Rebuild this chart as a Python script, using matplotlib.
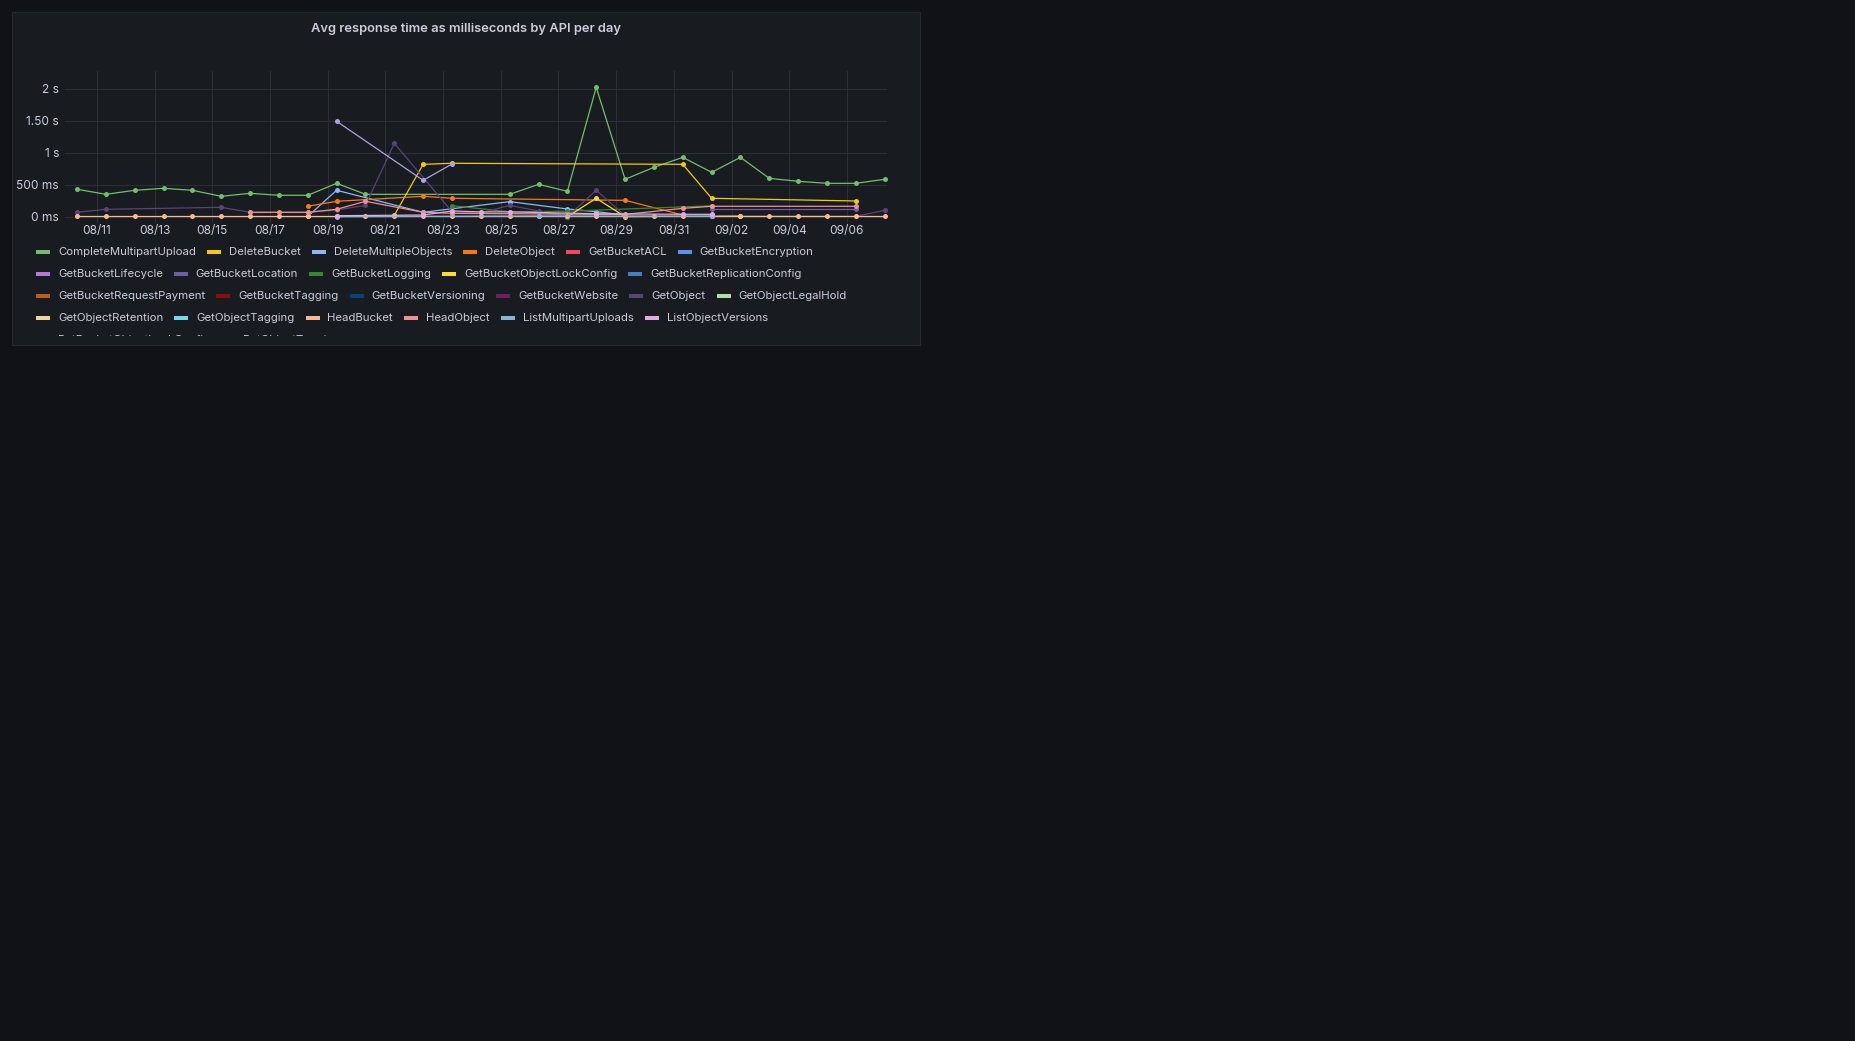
"""Grafana style panel: average API response time per day."""

import matplotlib

matplotlib.use("Agg")
import matplotlib.pyplot as plt
import numpy as np
from matplotlib.patches import Rectangle
from matplotlib.transforms import Bbox

W, H = 1855, 1041
N = None

# one point per day, 08/10 .. 09/07
dates = ["08/10", "08/11", "08/12", "08/13", "08/14", "08/15", "08/16", "08/17",
         "08/18", "08/19", "08/20", "08/21", "08/22", "08/23", "08/24", "08/25",
         "08/26", "08/27", "08/28", "08/29", "08/30", "08/31", "09/01", "09/02",
         "09/03", "09/04", "09/05", "09/06", "09/07"]

# values in ms, None = no data that day
complete_multipart_upload = [433, 354, 417, 448, 417, 323, 370, 339, 339, 526, 354, N, N, N, N,
                             354, 510, 401, 2026, 589, 776, 932, 698, 932, 604, 557, 526, 526, 589]
delete_bucket = [N, N, N, N, N, N, N, N, N, N, N, 26, 823, 839, N,
                 N, N, N, N, N, N, 823, 292, N, N, N, N, 250, N]
delete_multiple_objects = [N, N, N, N, N, N, N, N, 10, 417, N, N, 73, N, N,
                           240, N, 125, 83, 30, N, N, N, N, N, N, N, N, N]
delete_object = [N, N, N, N, N, N, N, N, 167, 245, N, N, 323, 292, N,
                 N, N, N, N, 260, N, 31, N, N, N, N, N, N, N]
get_bucket_logging = [N, N, N, N, N, N, N, N, N, N, N, N, N, 177, N,
                      80, N, 90, N, N, N, N, 175, N, N, N, N, N, N]
get_bucket_object_lock_config = [N, N, N, N, N, N, N, N, N, N, N, N, N, N, N,
                                 N, N, 5, 292, 5, N, N, 16, 20, N, N, N, N, N]
get_object = [73, 120, N, N, N, 151, 73, N, 73, 109, 182, 1151, N, 83, 60,
              182, 94, 5, 417, 20, N, N, N, N, N, N, N, 10, 104]
get_bucket_location = [N, N, N, N, N, N, N, N, N, N, N, N, N, N, N,
                       N, N, N, N, N, N, N, 120, N, N, N, N, 120, N]
head_object = [N, N, N, N, N, N, 73, 73, 73, 120, 245, N, 73, 57, N,
               N, N, N, N, 40, N, 135, 167, N, N, N, N, 167, N]
list_multipart_uploads = [N, N, N, N, N, N, N, N, N, 5, N, N, N, N, N,
                          N, 16, N, N, N, N, N, 10, N, N, N, N, N, N]
list_object_versions = [N, N, N, N, N, N, N, N, N, 20, N, N, 31, 94, 80,
                        80, N, N, 50, N, N, 42, 42, N, N, N, N, N, N]
head_bucket = [10] * 29
put_bucket_object_lock_config = [N, N, N, N, N, N, N, N, N, 1495, N, N, 573, 828, N,
                                 N, N, N, N, N, N, N, N, N, N, N, N, N, N]

series = [
    ("CompleteMultipartUpload", "#73BF69", complete_multipart_upload),
    ("DeleteBucket", "#F2CC0C", delete_bucket),
    ("DeleteMultipleObjects", "#8AB8FF", delete_multiple_objects),
    ("DeleteObject", "#FF780A", delete_object),
    ("GetBucketACL", "#F2495C", None),
    ("GetBucketEncryption", "#5794F2", None),
    ("GetBucketLifecycle", "#B877D9", None),
    ("GetBucketLocation", "#705DA0", get_bucket_location),
    ("GetBucketLogging", "#37872D", get_bucket_logging),
    ("GetBucketObjectLockConfig", "#FADE2A", get_bucket_object_lock_config),
    ("GetBucketReplicationConfig", "#447EBC", None),
    ("GetBucketRequestPayment", "#C15C17", None),
    ("GetBucketTagging", "#890F02", None),
    ("GetBucketVersioning", "#0A437C", None),
    ("GetBucketWebsite", "#6D1F62", None),
    ("GetObject", "#584477", get_object),
    ("GetObjectLegalHold", "#B7DBAB", None),
    ("GetObjectRetention", "#F4D598", None),
    ("GetObjectTagging", "#70DBED", None),
    ("HeadBucket", "#F9BA8F", head_bucket),
    ("HeadObject", "#F29191", head_object),
    ("ListMultipartUploads", "#82B5D8", list_multipart_uploads),
    ("ListObjectVersions", "#E5A8E2", list_object_versions),
    ("PutBucketObjectLockConfig", "#AEA2E0", put_bucket_object_lock_config),
    ("PutObjectTagging", "#613D7C", None),
]
legend_rows = [6, 5, 6, 6, 2]

y_ticks = [0, 500, 1000, 1500, 2000]
y_labels = ["0 ms", "500 ms", "1 s", "1.50 s", "2 s"]

TEXT = "#ccccdc"
plt.rcParams["font.family"] = ["Inter", "DejaVu Sans"]


def fx(x):
    return x / W


def fy(y):
    return 1 - y / H


fig = plt.figure(figsize=(W / 100, H / 100), dpi=100, facecolor="#111217")

# panel background
fig.patches.append(Rectangle((fx(12), fy(345)), fx(908), (345 - 12) / H,
                             transform=fig.transFigure, facecolor="#181b1f",
                             edgecolor="#25282d", linewidth=0.8, zorder=-5))

fig.text(fx(466), fy(29), "Avg response time as milliseconds by API per day",
         ha="center", va="center", fontsize=9.3, fontweight="semibold", color=TEXT)

ax = fig.add_axes([fx(65), fy(223), (887 - 65) / W, (223 - 71) / H])
ax.set_facecolor("none")
ax.set_zorder(2)
for s in ax.spines.values():
    s.set_visible(False)

x_all = np.arange(len(dates))
for name, color, vals in series:
    if vals is None:
        continue
    v = np.array([np.nan if a is None else a for a in vals], dtype=float)
    m = ~np.isnan(v)
    ax.plot(x_all[m], v[m], color=color, lw=0.9, marker="o", ms=3.6,
            markeredgewidth=0, solid_joinstyle="round")

ax.set_xlim(-0.416, 28.08)
ax.set_ylim(-94, 2281)

tick_idx = list(range(1, len(dates), 2))
ax.set_xticks([i - 0.31 for i in tick_idx])
ax.set_xticklabels([dates[i] for i in tick_idx])
ax.set_yticks(y_ticks)
ax.set_yticklabels(y_labels)
ax.tick_params(length=0, colors=TEXT, labelsize=8.6)
ax.tick_params(axis="y", pad=4.3)
ax.tick_params(axis="x", pad=1.5)
ax.grid(True, color="#2c2f35", linewidth=0.72)
ax.set_axisbelow(True)

# legend laid out as flowing rows
renderer = fig.canvas.get_renderer()
clip = Bbox.from_extents(12, H - 336, 920, H - 12)
row_y = [252, 274, 296, 318, 340]
k = 0
for r, count in enumerate(legend_rows):
    x = 36
    for name, color, _ in series[k:k + count]:
        sw = Rectangle((fx(x), fy(row_y[r]) - 2 / H), 14 / W, 4 / H,
                       transform=fig.transFigure, facecolor=color, edgecolor="none")
        sw.set_clip_box(clip)
        fig.patches.append(sw)
        t = fig.text(fx(x + 22), fy(row_y[r]), name, ha="left", va="center",
                     fontsize=8.2, color=TEXT)
        t.set_clip_box(clip)
        t.set_clip_on(True)
        wpx = t.get_window_extent(renderer).width
        x = x + 22 + wpx + 11
    k += count

fig.savefig("out.png", dpi=100, facecolor=fig.get_facecolor())
